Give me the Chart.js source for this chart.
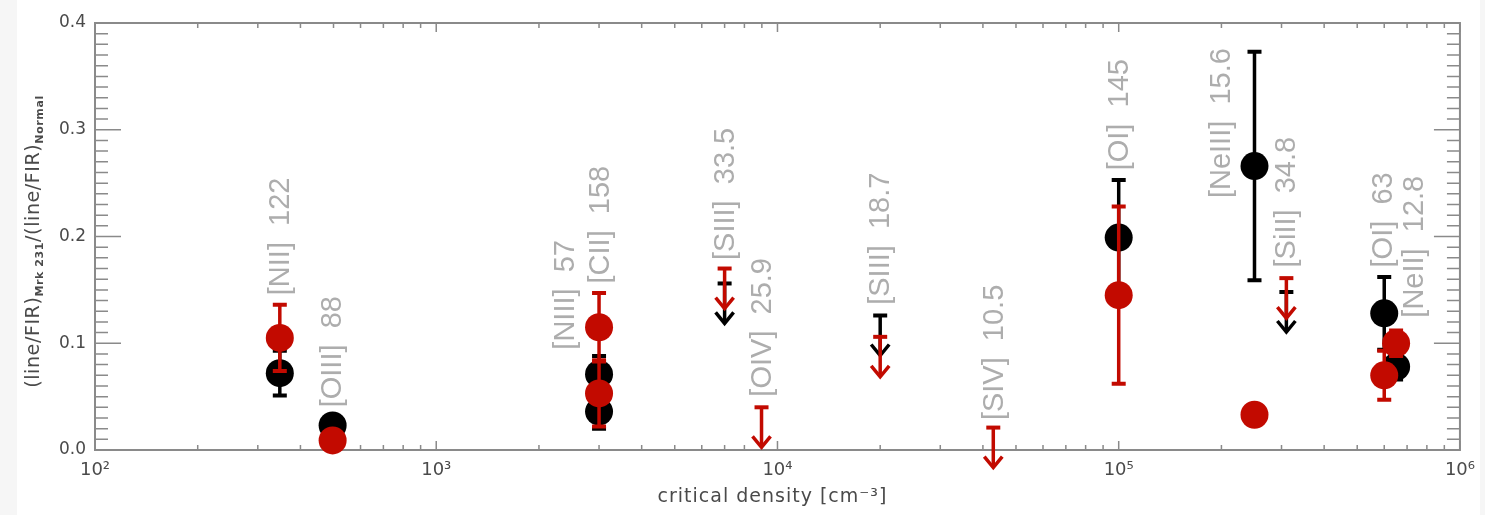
<!DOCTYPE html>
<html><head><meta charset="utf-8">
<script src="https://cdn.jsdelivr.net/npm/chart.js@4/dist/chart.umd.min.js"></script>
<style>
html,body{margin:0;padding:0;background:#fff;}
#wrap{position:relative;width:1485px;height:515px;}
canvas{display:block;}
</style></head><body>
<div id="wrap"><canvas id="c" width="1485" height="515"></canvas></div>
<script>
// ---- data ----
const lineNames = ['[NII]  122','[OIII]  88','[NIII]  57','[CII]  158','[SIII]  33.5','[OIV]  25.9','[SIII]  18.7','[SIV]  10.5','[OI]  145','[NeIII]  15.6','[SiII]  34.8','[OI]  63','[NeII]  12.8'];
const critDensity = [348, 497, 3000, 3000, 7000, 8980, 20000, 42900, 100000, 250000, 310000, 600000, 650000];
const blackValue = [0.072, 0.023, 0.036, 0.071, null, null, null, null, 0.199, 0.266, null, 0.128, 0.078];
const blackError = [0.021, null, 0.016, 0.017, null, null, null, null, 0.054, 0.107, null, 0.034, 0.012];
const redValue   = [0.105, 0.009, 0.053, 0.115, null, null, null, null, 0.145, 0.033, null, 0.070, 0.100];
const redError   = [0.031, null, 0.031, 0.032, null, null, null, null, 0.083, null, null, 0.023, 0.012];
const blackUpperLimit = [null, null, null, null, 0.156, null, 0.126, null, null, null, 0.148, null, null];
const redUpperLimit   = [null, null, null, null, 0.170, 0.040, 0.106, 0.021, null, null, 0.161, null, null];
const labelAtDensity = [352, 497, 2400, 3034, 7050, 9100, 20140, 43350, 100700, 201400, 311900, 600000, 738000];
const labelAtRatio   = [0.145, 0.040, 0.094, 0.156, 0.178, 0.050, 0.136, 0.028, 0.262, 0.236, 0.171, 0.171, 0.124];
const xTickValues = [100, 1000, 10000, 100000, 1000000];
const xTickLabels = ['10\u00B2','10\u00B3','10\u2074','10\u2075','10\u2076'];
const yTickValues = [0, 0.1, 0.2, 0.3, 0.4];
const yTickLabels = ['0.0','0.1','0.2','0.3','0.4'];
const xTitle = 'critical density [cm\u207B\u00B3]';
const yTitleParts = [['(line/FIR)', false], ['Mrk 231', true], ['/(line/FIR)', false], ['Normal', true]];

// ---- styles ----
const BLACK = '#000000';
const RED = '#c20a00';
const AXIS = '#8a8a8a';
const TICKTXT = '#4a4a4a';
const LABELGRAY = '#adadad';
const FONT = '"Liberation Sans", Arial, sans-serif';
const AXFONT = '"DejaVu Sans", sans-serif';

function pts(vals) {
  const out = [];
  vals.forEach((v, i) => { if (v !== null) out.push({x: critDensity[i], y: v, i: i}); });
  return out;
}

const errs = {0: [blackValue, blackError, BLACK], 2: [redValue, redError, RED]};
const lims = {1: [blackUpperLimit, BLACK], 3: [redUpperLimit, RED]};

const decor = {
  id: 'decor',
  beforeDraw(chart) {
    const ctx = chart.ctx;
    ctx.save();
    ctx.fillStyle = '#ffffff';
    ctx.fillRect(0, 0, chart.width, chart.height);
    ctx.fillStyle = '#f6f6f6';
    ctx.fillRect(0, 0, 17, chart.height);
    ctx.fillRect(1480, 0, 5, chart.height);
    ctx.restore();
  },
  beforeDatasetsDraw(chart) {
    const ctx = chart.ctx, xs = chart.scales.x, ys = chart.scales.y, a = chart.chartArea;
    ctx.save();
    // line labels
    ctx.fillStyle = LABELGRAY;
    ctx.font = '29px ' + FONT;
    ctx.textAlign = 'left';
    ctx.textBaseline = 'middle';
    lineNames.forEach((t, i) => {
      const px = xs.getPixelForValue(labelAtDensity[i]);
      const py = ys.getPixelForValue(labelAtRatio[i]);
      ctx.save();
      ctx.translate(px, py);
      ctx.rotate(-Math.PI / 2);
      ctx.fillText(t, 0, 0);
      ctx.restore();
    });
    // frame
    ctx.strokeStyle = AXIS;
    ctx.lineWidth = 2;
    ctx.strokeRect(a.left, a.top, a.right - a.left, a.bottom - a.top);
    ctx.lineWidth = 1.5;
    ctx.beginPath();
    for (let k = 0; k <= 40; k++) {
      const v = k / 100;
      const py = ys.getPixelForValue(v);
      const len = (k % 10 === 0) ? 26 : 13;
      ctx.moveTo(a.left, py); ctx.lineTo(a.left + len, py);
      ctx.moveTo(a.right, py); ctx.lineTo(a.right - len, py);
    }
    for (let e = 2; e <= 6; e++) {
      for (let m = 1; m <= 9; m++) {
        if (e === 6 && m > 1) break;
        const v = m * Math.pow(10, e);
        const px = xs.getPixelForValue(v);
        const len = (m === 1) ? 9 : 5;
        ctx.moveTo(px, a.bottom); ctx.lineTo(px, a.bottom - len);
        ctx.moveTo(px, a.top); ctx.lineTo(px, a.top + len);
      }
    }
    ctx.stroke();
    // x title
    ctx.fillStyle = TICKTXT;
    ctx.font = '19px ' + AXFONT;
    ctx.letterSpacing = '1px';
    ctx.textAlign = 'center';
    ctx.textBaseline = 'middle';
    ctx.fillText(xTitle, (a.left + a.right) / 2 - 5, 497);
    // y title
    ctx.save();
    ctx.translate(33, (a.top + a.bottom) / 2 + 5);
    ctx.rotate(-Math.PI / 2);
    ctx.letterSpacing = '0.6px';
    let total = 0;
    const widths = yTitleParts.map(([t, sub]) => {
      ctx.font = (sub ? 'bold 11px ' : '19px ') + AXFONT;
      const w = ctx.measureText(t).width; total += w; return w;
    });
    let cx = -total / 2;
    ctx.textAlign = 'left';
    ctx.textBaseline = 'alphabetic';
    yTitleParts.forEach(([t, sub], i) => {
      ctx.font = (sub ? 'bold 11px ' : '19px ') + AXFONT;
      ctx.fillText(t, cx, sub ? 10 : 6);
      cx += widths[i];
    });
    ctx.restore();
    ctx.letterSpacing = '0px';
    ctx.restore();
  },
  beforeDatasetDraw(chart, args) {
    const e = errs[args.index];
    if (!e) return;
    const [vals, err, col] = e;
    const ctx = chart.ctx, xs = chart.scales.x, ys = chart.scales.y;
    ctx.save();
    ctx.strokeStyle = col;
    vals.forEach((v, i) => {
      if (v === null || err[i] === null) return;
      const px = xs.getPixelForValue(critDensity[i]);
      const top = ys.getPixelForValue(v + err[i]);
      const bot = ys.getPixelForValue(v - err[i]);
      ctx.lineWidth = 3.5;
      ctx.beginPath(); ctx.moveTo(px, top); ctx.lineTo(px, bot); ctx.stroke();
      ctx.lineWidth = 4;
      ctx.beginPath();
      ctx.moveTo(px - 7, top); ctx.lineTo(px + 7, top);
      ctx.moveTo(px - 7, bot); ctx.lineTo(px + 7, bot);
      ctx.stroke();
    });
    ctx.restore();
  },
  afterDatasetDraw(chart, args) {
    const l = lims[args.index];
    if (!l) return;
    const [vals, col] = l;
    const ctx = chart.ctx, xs = chart.scales.x, ys = chart.scales.y;
    ctx.save();
    ctx.strokeStyle = col;
    ctx.lineCap = 'butt';
    vals.forEach((v, i) => {
      if (v === null) return;
      const px = xs.getPixelForValue(critDensity[i]);
      const top = ys.getPixelForValue(v);
      const tip = top + 40;
      ctx.lineWidth = 4;
      ctx.beginPath(); ctx.moveTo(px - 7, top); ctx.lineTo(px + 7, top); ctx.stroke();
      ctx.lineWidth = 3.5;
      ctx.beginPath(); ctx.moveTo(px, top); ctx.lineTo(px, tip - 1); ctx.stroke();
      ctx.lineJoin = 'miter';
      ctx.beginPath();
      ctx.moveTo(px - 9, tip - 11); ctx.lineTo(px, tip); ctx.lineTo(px + 9, tip - 11);
      ctx.stroke();
    });
    ctx.restore();
  }
};

const ptDS = (vals, col, order) => ({
  data: pts(vals), order: order, pointRadius: 14, pointHoverRadius: 14, pointBackgroundColor: col,
  pointBorderWidth: 0, borderWidth: 0, showLine: false, clip: false
});
const limDS = (vals, order) => ({
  data: pts(vals), order: order, pointRadius: 0, pointHoverRadius: 0, showLine: false, clip: false
});

new Chart(document.getElementById('c'), {
  type: 'scatter',
  data: { datasets: [ptDS(blackValue, BLACK, 4), limDS(blackUpperLimit, 2), ptDS(redValue, RED, 3), limDS(redUpperLimit, 1)] },
  plugins: [decor],
  options: {
    responsive: false, animation: false, devicePixelRatio: 1, events: [],
    layout: { padding: { top: 23, right: 22, left: 0, bottom: 0 } },
    plugins: { legend: { display: false }, tooltip: { enabled: false } },
    scales: {
      x: {
        type: 'logarithmic', min: 100, max: 1000000,
        afterBuildTicks: (s) => { s.ticks = xTickValues.map(v => ({ value: v })); },
        afterFit: (s) => { s.height = 65; },
        grid: { display: true, drawOnChartArea: false, drawTicks: false },
        border: { display: false },
        ticks: {
          autoSkip: false, maxRotation: 0, padding: 10, color: TICKTXT,
          font: { family: AXFONT, size: 18 },
          callback: (v, i) => xTickLabels[i]
        }
      },
      y: {
        type: 'linear', min: 0, max: 0.4,
        afterBuildTicks: (s) => { s.ticks = yTickValues.map(v => ({ value: v })); },
        afterFit: (s) => { s.width = 95; },
        grid: { display: true, drawOnChartArea: false, drawTicks: false },
        border: { display: false },
        ticks: {
          padding: 9, color: TICKTXT,
          font: { family: AXFONT, size: 17 },
          callback: (v, i) => yTickLabels[i]
        }
      }
    }
  }
});
</script>
</body></html>
